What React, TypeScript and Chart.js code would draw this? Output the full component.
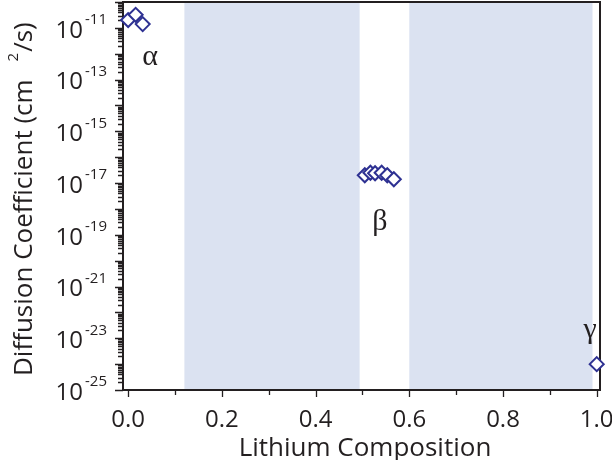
import { useEffect, useRef } from 'react';
import { Chart, registerables } from 'chart.js';

Chart.register(...registerables);

// ---- data ----
const alphaX = [0.0, 0.016, 0.031];
const alphaY = [2.0e-11, 3.2e-11, 1.4e-11];
const betaX = [0.505, 0.517, 0.527, 0.541, 0.553, 0.567];
const betaY = [2.0e-17, 2.5e-17, 2.4e-17, 2.5e-17, 2.0e-17, 1.4e-17];
const gammaX = [1.0];
const gammaY = [1.0e-24];

const phaseLabels = ['α', 'β', 'γ'];
const phaseLabelX = [0.047, 0.537, 0.986];
const phaseLabelY = [7.5e-13, 3.2e-19, 2.0e-23];

const bandStart = [0.12, 0.6];
const bandEnd = [0.494, 0.991];

const xTickValues = [0, 0.2, 0.4, 0.6, 0.8, 1.0];
const xTickLabels = ['0.0', '0.2', '0.4', '0.6', '0.8', '1.0'];
const yTickExponents = [-11, -13, -15, -17, -19, -21, -23, -25];

const xTitle = 'Lithium Composition';
const yTitleMain = 'Diffusion Coefficient (cm';
const yTitleSup = '2';
const yTitleEnd = '/s)';

const FRAME = '#231f20';
const BAND = '#dbe2f1';
const MARK = '#2e3192';
const FONT = '"Open Sans", "Noto Sans", sans-serif';

const decorPlugin = {
  id: 'decor',
  beforeDatasetsDraw(chart: any) {
    const { ctx, chartArea: a, scales } = chart;
    const xs = scales.x;
    const ys = scales.y;
    ctx.save();
    // bands
    ctx.fillStyle = BAND;
    bandStart.forEach((s, i) => {
      const l = xs.getPixelForValue(s);
      const r = xs.getPixelForValue(bandEnd[i]);
      ctx.fillRect(l, a.top, r - l, a.bottom - a.top);
    });
    // frame
    ctx.strokeStyle = FRAME;
    ctx.lineWidth = 2;
    ctx.strokeRect(a.left, a.top, a.right - a.left, a.bottom - a.top);
    // y ticks
    ctx.lineWidth = 1.3;
    ctx.beginPath();
    for (let e = -25; e <= -10; e++) {
      for (let m = 1; m <= 9; m++) {
        if (e === -10 && m > 1) break;
        const v = m * Math.pow(10, e);
        const py = Math.round(ys.getPixelForValue(v)) + 0.5;
        const len = m === 1 ? 8 : 5;
        ctx.moveTo(a.left - len, py);
        ctx.lineTo(a.left, py);
      }
    }
    // x ticks
    for (let k = 0; k <= 10; k++) {
      const px = Math.round(xs.getPixelForValue(k / 10)) + 0.5;
      const len = k % 2 === 0 ? 7 : 5;
      ctx.moveTo(px, a.bottom);
      ctx.lineTo(px, a.bottom + len);
    }
    ctx.stroke();

    // tick labels
    ctx.fillStyle = FRAME;
    ctx.font = `24px ${FONT}`;
    ctx.textAlign = 'center';
    ctx.textBaseline = 'alphabetic';
    xTickValues.forEach((v, i) => {
      ctx.fillText(xTickLabels[i], xs.getPixelForValue(v), 427);
    });
    yTickExponents.forEach((e) => {
      const py = ys.getPixelForValue(Math.pow(10, e));
      ctx.font = `24px ${FONT}`;
      ctx.textAlign = 'right';
      ctx.textBaseline = 'middle';
      ctx.fillText('10', 83, py + 3);
      ctx.font = `15px ${FONT}`;
      ctx.textAlign = 'left';
      ctx.fillText(String(e), 85, py - 8);
    });

    // axis titles
    ctx.font = `26px ${FONT}`;
    ctx.textAlign = 'center';
    ctx.textBaseline = 'alphabetic';
    ctx.fillText(xTitle, 365, 456);

    ctx.save();
    ctx.translate(32, 376);
    ctx.rotate(-Math.PI / 2);
    ctx.textAlign = 'left';
    ctx.font = `26px ${FONT}`;
    ctx.fillText(yTitleMain, 0, 0);
    let w = ctx.measureText(yTitleMain).width + 18;
    ctx.font = `15px ${FONT}`;
    ctx.fillText(yTitleSup, w, -14);
    w += ctx.measureText(yTitleSup).width + 1;
    ctx.font = `26px ${FONT}`;
    ctx.fillText(yTitleEnd, w, 0);
    ctx.restore();

    // phase labels
    ctx.font = `30px "Liberation Serif", "DejaVu Serif", serif`;
    ctx.textAlign = 'center';
    ctx.textBaseline = 'middle';
    phaseLabels.forEach((t, i) => {
      ctx.fillText(t, xs.getPixelForValue(phaseLabelX[i]), ys.getPixelForValue(phaseLabelY[i]));
    });
    ctx.restore();
  },
};

function toPoints(xsArr: number[], ysArr: number[]) {
  return xsArr.map((x, i) => ({ x, y: ysArr[i] }));
}

export default function App() {
  const ref = useRef<HTMLCanvasElement | null>(null);
  useEffect(() => {
    document.body.style.margin = '0';
    const canvas = ref.current;
    if (!canvas) return;
    const points = [
      ...toPoints(alphaX, alphaY),
      ...toPoints(betaX, betaY),
      ...toPoints(gammaX, gammaY),
    ];
    const chart = new Chart(canvas, {
      type: 'scatter',
      data: {
        datasets: [
          {
            data: points,
            pointStyle: 'rectRot',
            pointRadius: 7,
            pointBorderWidth: 2,
            borderColor: MARK,
            backgroundColor: '#ffffff',
            showLine: false,
            clip: false as any,
          },
        ],
      },
      options: {
        animation: false,
        responsive: false,
        devicePixelRatio: 1,
        layout: { autoPadding: false, padding: { left: 123, top: 2, right: 12, bottom: 70 } },
        plugins: { legend: { display: false }, tooltip: { enabled: false } },
        scales: {
          x: { type: 'linear', min: -0.011, max: 1.007, display: false },
          y: { type: 'logarithmic', min: 1e-25, max: 1e-10, display: false },
        },
      },
      plugins: [decorPlugin],
    });
    return () => chart.destroy();
  }, []);
  return (
    <div style={{ position: 'absolute', left: 0, top: 0, width: 612, height: 460, background: '#fff' }}>
      <canvas ref={ref} width={612} height={460} />
    </div>
  );
}
